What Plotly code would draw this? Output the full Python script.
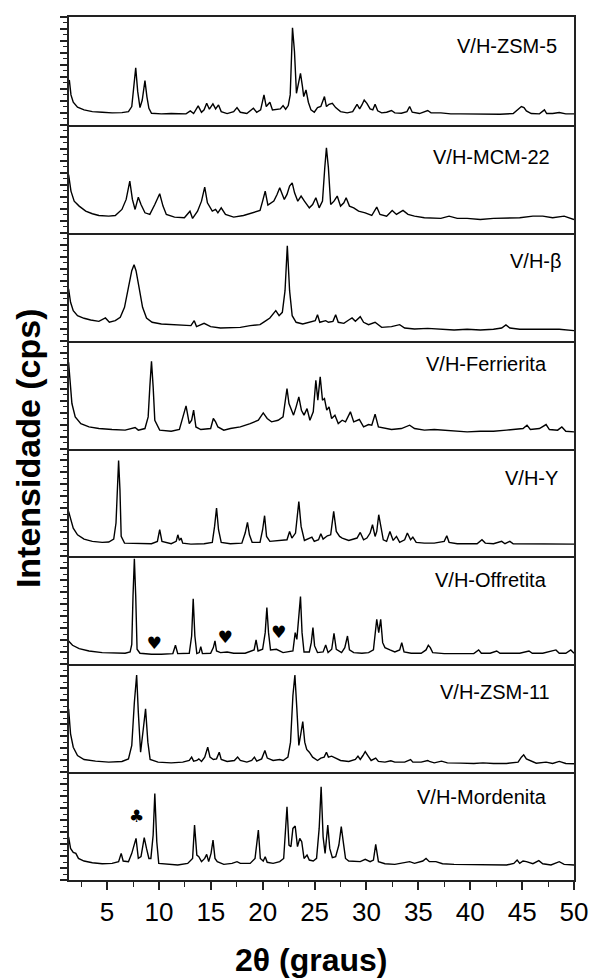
import plotly.graph_objects as go
from plotly.subplots import make_subplots

# ---------------- data (2theta in degrees, intensity in panel units 0-100) ----------------
sample_labels = ["V/H-ZSM-5", "V/H-MCM-22", "V/H-β", "V/H-Ferrierita",
                 "V/H-Y", "V/H-Offretita", "V/H-ZSM-11", "V/H-Mordenita"]

x_ticks = [5, 10, 15, 20, 25, 30, 35, 40, 45, 50]

zsm5 = [(1.36,41.7),(1.52,27.8),(1.74,21),(2.15,16.4),(2.78,13.9),(3.58,12.3),(4.53,11.7),(5.48,11.1),
        (6.43,11.4),(7.06,12.3),(7.38,17),(7.57,34),(7.76,53),(7.95,31),(8.17,16),(8.39,23),(8.65,41),
        (8.84,26),(9.03,15.4),(9.28,10.8),(10.23,10.2),(11.18,10.5),(12.13,10.5),(12.61,10.2),(13.02,13),
        (13.34,10.5),(13.78,17.6),(14.10,11.7),(14.35,13.9),(14.60,20),(14.86,14.5),(15.2,19.4),(15.46,14.8),
        (15.74,18.5),(16.0,12.3),(16.57,10.5),(17.2,12.3),(17.52,16),(17.84,11.7),(18.47,10.5),(19.1,15.4),
        (19.42,11.7),(19.8,13.9),(20.12,27.8),(20.34,17),(20.69,21),(20.94,13.9),(21.32,14.5),(21.7,14.8),
        (21.96,17.9),(22.21,14.5),(22.46,17.9),(22.65,27.8),(22.87,90),(23.06,68),(23.25,29.3),(23.44,40),
        (23.64,47.8),(23.83,35.5),(23.95,26.2),(24.17,32.4),(24.4,21),(24.65,13.9),(24.97,11.7),(25.28,16),
        (25.6,17),(25.95,26.2),(26.14,17),(26.39,19.1),(26.71,20),(27.03,16),(27.5,12.3),(28.14,11.1),
        (28.67,12.3),(29.09,19.1),(29.34,14.8),(29.56,18.5),(29.78,23.1),(30.04,20),(30.35,14.8),(30.61,13.9),
        (30.83,19.1),(31.08,13),(31.46,11.1),(31.94,11.7),(32.41,13.3),(32.73,11.1),(33.36,10.8),(33.9,12.3),
        (34.16,17),(34.41,11.7),(35.11,10.5),(35.9,13.3),(36.22,11.1),(37.17,11.1),(38.12,10.2),(39.07,10.2),
        (40.34,9.9),(41.6,9.9),(42.87,9.9),(44.14,10.5),(44.61,13.9),(44.93,17),(45.18,16),(45.41,13),
        (45.88,10.5),(46.67,10.2),(47.15,13.9),(47.37,10.5),(47.94,10.5),(48.58,11.4),(49.21,10.2),(50.0,10.2)]

mcm22 = [(1.29,54),(1.52,38.6),(1.83,29.3),(2.31,24.7),(2.94,20),(3.58,17.6),(4.21,16),(5.16,15.4),
         (5.79,16),(6.43,21.6),(6.84,30.9),(7.19,47.8),(7.44,30.9),(7.7,21.6),(8.01,33),(8.27,26.2),
         (8.65,18.5),(9.12,17),(9.6,26.2),(10.07,36.1),(10.39,24.7),(10.71,17),(11.5,14.5),(12.45,13.9),
         (12.99,20),(13.24,13.3),(13.72,20),(14.1,29.3),(14.41,42.3),(14.67,27.8),(15.14,20),(15.46,21.6),
         (15.68,18.5),(16.0,23.1),(16.41,17),(17.2,14.5),(18.15,16),(19.1,18.5),(19.74,20.7),(19.99,29.3),
         (20.24,38.6),(20.5,25.6),(20.75,26.9),(21.07,29.3),(21.38,35.5),(21.64,41.7),(21.89,35.5),(22.08,30.9),
         (22.34,35.5),(22.59,43.2),(22.84,46.3),(23.07,37),(23.38,29.3),(23.7,34),(24.02,29.3),(24.49,23.1),
         (24.81,26.2),(25.12,32.4),(25.44,23.1),(25.76,29.3),(25.98,60.2),(26.14,78.7),(26.33,60.2),(26.55,26.2),
         (26.87,29.3),(27.18,34),(27.5,24.7),(27.82,27.8),(28.04,32.4),(28.36,24.7),(28.77,23.1),(29.24,20),
         (29.88,18.5),(30.51,16),(30.99,23.8),(31.3,17),(31.94,15.4),(32.48,20.7),(32.89,17),(33.52,20.7),
         (34.0,17),(34.63,15.4),(35.58,13.9),(36.53,13.3),(37.17,13.3),(37.96,15.4),(38.75,13.3),(39.7,13.3),
         (40.97,12.3),(42.24,13.3),(43.5,13.3),(44.77,13.9),(46.04,15.4),(46.99,15.4),(47.94,13.9),(49.05,15.4),
         (50.0,12.3)]

beta = [(1.29,48),(1.48,35.5),(1.74,27.8),(2.15,23.1),(2.78,20.7),(3.42,19.1),(4.21,17.9),(4.84,21),
        (5.22,17),(5.79,18.5),(6.27,21.6),(6.68,30.9),(7.06,49.4),(7.38,64.8),(7.6,70.4),(7.79,64.8),
        (8.08,49.4),(8.42,30.9),(8.8,21),(9.34,17),(10.23,15.4),(11.18,14.8),(12.29,13.9),(13.08,13.9),
        (13.4,18.5),(13.62,13),(14.35,16),(14.98,13),(15.93,11.7),(16.88,12.3),(17.84,12.3),(18.79,13.9),
        (19.74,14.8),(20.21,17.9),(20.69,21),(21.26,27.8),(21.58,23.1),(21.89,26.2),(22.15,46.3),(22.37,88),
        (22.59,46.3),(22.84,23.1),(23.22,17),(23.86,15.4),(24.65,17),(25.06,18.5),(25.28,24),(25.5,17),
        (26.07,18.5),(26.33,17),(26.77,17.9),(27.03,24),(27.28,17),(27.82,16),(28.29,19.1),(28.61,21),
        (28.93,17.9),(29.4,22.2),(29.72,17),(30.2,14.8),(30.83,17),(31.46,12.3),(32.41,13),(33.2,14.8),
        (33.68,11.7),(34.63,10.8),(35.9,11.4),(37.17,10.8),(38.44,9.9),(39.7,10.5),(40.97,9.9),(42.24,10.5),
        (43.03,11.7),(43.44,14.5),(43.82,11.7),(44.77,10.5),(46.04,10.5),(47.31,9.9),(48.58,10.5),(50.0,9.3)]

ferrierita = [(1.29,80),(1.42,60),(1.61,41.7),(1.93,29.3),(2.47,23.1),(3.26,20),(4.21,18.5),(5.48,17.6),
              (6.74,17),(7.7,19.4),(8.01,17),(8.65,18.5),(8.96,29.3),(9.12,57.1),(9.28,80.9),(9.44,57.1),
              (9.6,26.2),(10.07,17),(11.18,16),(11.97,17.6),(12.29,29.3),(12.61,39.5),(12.92,23.1),(13.15,26.2),
              (13.34,35.5),(13.56,20),(14.03,17.6),(14.98,18.5),(15.24,27.8),(15.46,24.7),(15.68,20),(16.25,17),
              (16.88,18.5),(17.84,20),(18.79,23.1),(19.58,26.2),(20.05,33),(20.43,27.8),(20.85,24.7),(21.48,26.2),
              (21.96,29.3),(22.21,46.3),(22.34,55.6),(22.53,41.7),(22.75,37),(22.97,30.9),(23.22,38.6),(23.48,47.8),
              (23.73,35.5),(23.98,30.9),(24.27,37),(24.55,26.2),(24.87,34),(25.12,63.3),(25.31,44.8),(25.54,66.4),
              (25.76,44.8),(25.95,46.3),(26.17,35.5),(26.39,38.6),(26.64,27.8),(26.96,30.9),(27.28,23.1),(27.66,26.2),
              (27.98,24.7),(28.45,34),(28.77,24.7),(29.31,26.9),(29.72,20),(30.2,22.2),(30.51,21.6),(30.83,31.8),
              (31.15,20),(31.78,18.5),(32.41,17.6),(33.36,18.5),(34.16,21.6),(34.63,18.5),(35.58,17),(36.53,17.6),
              (37.49,17),(38.44,16.4),(39.7,15.4),(40.97,16),(42.24,16),(43.5,17),(44.46,17.6),(45.09,18.5),
              (45.47,21.6),(45.79,17.6),(46.67,18.5),(47.31,22.2),(47.63,17.6),(48.42,17),(48.83,20),(49.21,16),
              (50.0,15.4)]

zeolite_y = [(1.29,41.7),(1.48,34),(1.74,26.2),(2.15,20),(2.78,16),(3.58,13.9),(4.53,13),(5.16,13.3),
             (5.64,16),(5.86,30.9),(5.98,64.8),(6.11,88.9),(6.24,61.7),(6.36,18.5),(6.68,12.3),(8.01,11.7),
             (9.28,11.7),(9.85,13.9),(10.07,24.7),(10.29,13.9),(11.18,11.7),(11.66,13.9),(11.82,20),(11.97,14.8),
             (12.13,17),(12.29,12.3),(13.08,11.4),(14.35,11.7),(15.14,13),(15.36,27.8),(15.55,44.8),(15.74,24.7),
             (16.0,13),(16.88,11.7),(17.99,12.3),(18.31,21.6),(18.53,31.5),(18.72,20),(18.98,13),(19.74,13),
             (19.99,24.7),(20.18,37.7),(20.37,18.5),(20.69,13.9),(21.64,14.8),(22.34,15.4),(22.59,23.1),(22.81,17),
             (23.16,21.6),(23.48,50.9),(23.7,27.8),(24.02,14.8),(24.74,17.9),(24.97,13.9),(25.38,15.4),(25.6,21),
             (25.82,16),(26.23,19.1),(26.55,20),(26.84,41.7),(27.09,23.1),(27.41,18.5),(27.66,17),(28.29,14.8),
             (29.09,17),(29.4,22.2),(29.72,15.4),(30.04,17),(30.35,21.6),(30.58,29.3),(30.83,18.5),(30.99,23.1),
             (31.18,38.6),(31.4,24.7),(31.62,15.4),(31.94,13.9),(32.26,23.1),(32.57,14.8),(32.89,18.5),(33.2,13),
             (33.68,15.4),(33.94,21.6),(34.25,15.4),(34.47,17.9),(34.79,13),(35.58,12.3),(36.53,12.3),(37.49,13.9),
             (37.74,19.1),(37.96,13),(38.75,11.7),(39.7,11.7),(40.66,11.7),(41.13,15.4),(41.45,12.3),(42.24,11.7),
             (43.03,13.9),(43.35,11.7),(43.82,13.9),(44.14,11.7),(45.41,11.7),(46.67,11.4),(47.94,11.7),(48.89,11.7),
             (50.0,11.4)]

offretita = [(1.29,21.6),(1.67,17.6),(2.31,14.5),(3.26,12.3),(4.53,10.8),(5.79,10.2),(6.74,10.2),(7.22,11.4),
             (7.38,18.5),(7.5,63.3),(7.63,97.8),(7.76,63.3),(7.89,13.9),(8.17,10.2),(9.28,9.3),(10.23,9.3),
             (11.34,9.9),(11.59,17.6),(11.81,9.9),(12.92,10.2),(13.15,26.2),(13.3,60.8),(13.46,26.2),(13.65,9.9),
             (13.88,10.8),(14.03,16.4),(14.19,9.9),(14.98,10.2),(15.24,15.4),(15.4,21.6),(15.55,12.3),(15.93,10.8),
             (16.57,11.4),(17.2,10.2),(18.31,10.2),(19.17,13.3),(19.36,22.5),(19.55,12.3),(19.99,13.9),(20.24,29.3),
             (20.4,52.5),(20.56,29.3),(20.75,13.3),(21.32,13.9),(21.96,10.8),(22.91,12.3),(23.13,29.3),(23.29,23.1),
             (23.48,41.7),(23.64,62.7),(23.79,29.3),(23.98,11.4),(24.49,11.4),(24.68,20),(24.84,34),(25.0,17),
             (25.28,10.8),(25.82,11.4),(26.07,17.9),(26.3,10.8),(26.65,13.9),(26.87,28.7),(27.09,13.9),(27.6,10.8),
             (27.91,15.4),(28.17,26.2),(28.36,13.3),(28.77,10.8),(29.56,10.2),(30.2,10.8),(30.67,13.3),(30.99,41.7),
             (31.18,29.3),(31.37,41.7),(31.56,20),(31.78,15.4),(32.26,13.3),(32.73,11.4),(33.2,13.3),(33.4,20),
             (33.62,11.4),(34.31,10.2),(35.27,10.2),(35.74,13.3),(35.96,17.6),(36.15,15.4),(36.38,10.8),(37.49,9.9),
             (39.07,9.9),(40.34,9.9),(40.81,13.3),(41.07,10.2),(41.92,10.2),(42.55,12.3),(42.87,10.2),(43.5,10.2),
             (44.14,10.2),(44.77,10.2),(45.66,12.3),(45.98,10.2),(46.99,10.2),(48.26,13.3),(48.58,10.2),(49.21,10.2),
             (49.69,13.3),(50.0,10.2)]

zsm11 = [(1.29,58.6),(1.48,35.5),(1.74,23.1),(2.15,15.4),(2.78,11.7),(3.89,10.2),(5.16,9.3),(6.43,9.9),
         (7.06,12.3),(7.38,24.7),(7.63,64.8),(7.85,90),(8.01,55.6),(8.23,18.5),(8.49,40),(8.71,58.6),
         (8.93,27.8),(9.15,11.7),(9.91,9.3),(11.18,8.6),(12.29,9.3),(12.92,10.8),(13.15,13.9),(13.34,10.2),
         (13.65,10.8),(13.84,12.3),(14.1,9.9),(14.41,13.9),(14.7,23.1),(14.92,13.9),(15.24,11.7),(15.55,12.3),
         (15.81,18.5),(16.0,11.7),(16.57,9.9),(17.27,10.8),(17.58,13.9),(17.84,10.8),(18.47,9.3),(18.94,10.8),
         (19.2,13.9),(19.42,10.2),(19.9,12.3),(20.21,20),(20.44,13),(21.0,10.8),(21.64,11.7),(21.96,10.8),
         (22.43,13.9),(22.68,27.8),(22.91,71),(23.1,90),(23.29,58.6),(23.48,24.7),(23.67,35.5),(23.86,46.9),
         (24.05,27.8),(24.24,21),(24.49,18.5),(24.81,13.9),(25.28,10.8),(25.6,13),(25.92,13.9),(26.14,18.5),
         (26.33,13.9),(26.64,14.8),(27.03,13),(27.5,10.8),(28.29,9.9),(28.93,11.7),(29.18,14.8),(29.4,11.7),
         (29.66,15.4),(29.88,19.1),(30.13,15.4),(30.45,10.8),(30.89,13),(31.15,9.9),(31.78,9.3),(32.35,10.5),
         (32.73,9.3),(33.68,9.3),(34.25,11.7),(34.47,9.3),(35.27,9.3),(35.9,10.8),(36.06,9.9),(36.53,8.6),
         (37.23,10.2),(37.8,8.6),(39.07,8.3),(40.34,8),(41.23,8.6),(42.24,8),(43.5,8),(44.61,9.3),
         (44.93,13.9),(45.15,16),(45.41,12.3),(45.72,10.8),(46.36,8.3),(47.31,9.3),(47.94,8),(48.58,9.9),
         (49.21,8),(50.0,7.7)]

mordenita = [(1.29,40),(1.48,29.3),(1.74,25.6),(1.99,24.7),(2.24,20),(2.78,17.6),(3.58,16),(4.53,15.1),
             (5.48,15.4),(6.11,17),(6.36,24.7),(6.55,17.6),(7.06,17),(7.38,24.7),(7.79,38.6),(8.01,20),
             (8.27,21.6),(8.58,39.2),(8.8,29.3),(9.03,20),(9.22,20),(9.44,41.7),(9.6,80.2),(9.79,35.5),
             (9.98,15.4),(10.86,14.5),(11.81,13.9),(12.77,15.4),(13.24,20),(13.43,50.9),(13.65,23.1),(13.84,21.6),
             (14.1,17),(14.41,20),(14.6,23.8),(14.79,17),(15.02,24.7),(15.21,37),(15.4,20),(15.62,17),
             (16.25,14.5),(17.04,15.4),(17.52,17),(17.84,15.4),(18.79,15.4),(19.26,20),(19.58,46.3),(19.77,20),
             (20.05,17.6),(20.24,21.6),(20.43,16.4),(21.0,15.4),(21.64,17),(22.02,20),(22.21,47.8),(22.34,67.9),
             (22.53,32.4),(22.72,30.9),(22.91,47.8),(23.13,50),(23.35,30.9),(23.57,38.6),(23.76,35.5),(23.98,20),
             (24.27,23.1),(24.49,18.5),(24.87,17.6),(25.19,20),(25.44,47.8),(25.63,86.4),(25.82,40),(26.01,24.7),
             (26.27,50.9),(26.46,29.3),(26.71,20.7),(27.03,21.6),(27.34,32.4),(27.57,49.4),(27.76,35.5),(27.98,20),
             (28.29,17.6),(28.93,17.6),(29.4,17),(29.88,19.1),(30.35,17),(30.67,18.5),(30.89,33),(31.15,17),
             (31.78,15.1),(32.73,14.5),(33.36,15.4),(34.16,17),(34.63,15.4),(35.43,17.6),(35.74,20),(36.06,17),
             (36.69,17),(37.33,15.1),(38.44,14.5),(39.7,14.5),(40.97,13.9),(42.24,14.5),(43.5,13.9),(44.2,15.4),
             (44.52,18.5),(44.77,15.4),(45.09,17.6),(45.41,17),(46.04,15.1),(46.61,17.9),(46.99,15.1),(47.78,13.9),
             (48.58,17),(49.05,14.5),(50.0,13.9)]

patterns = [zsm5, mcm22, beta, ferrierita, zeolite_y, offretita, zsm11, mordenita]

# impurity markers (heart: panel 6, club: panel 8)
heart_x = [9.53, 16.38, 21.54]
heart_y = [18.5, 23.8, 28.4]
club_x = [7.85]
club_y = [58]

# ---------------- figure ----------------
FONT = "Liberation Sans, Arial, Helvetica, sans-serif"
n = len(patterns)
fig = make_subplots(rows=n, cols=1, shared_xaxes=True, vertical_spacing=0)

for i, pts in enumerate(patterns):
    xs, ys = zip(*pts)
    fig.add_trace(go.Scatter(x=xs, y=ys, mode="lines",
                             line=dict(color="black", width=1.4),
                             showlegend=False, hoverinfo="skip"), row=i + 1, col=1)

fig.add_trace(go.Scatter(x=heart_x, y=heart_y, mode="text", text=["♥"] * len(heart_x),
                         textfont=dict(size=17, color="black", family="DejaVu Sans"),
                         showlegend=False, hoverinfo="skip"), row=6, col=1)
fig.add_trace(go.Scatter(x=club_x, y=club_y, mode="text", text=["♣"] * len(club_x),
                         textfont=dict(size=17, color="black", family="DejaVu Sans"),
                         showlegend=False, hoverinfo="skip"), row=8, col=1)

for r in range(1, n + 1):
    fig.update_yaxes(range=[0, 100], showline=True, mirror=True, linecolor="#222",
                     linewidth=1.5, ticks="outside", ticklen=7, tickwidth=1.5, tickcolor="#222",
                     tick0=0, dtick=100 / 9, showticklabels=False, showgrid=False, zeroline=False,
                     minor=dict(ticks="outside", ticklen=4, tickwidth=1.2, tickcolor="#222",
                                dtick=100 / 18, showgrid=False),
                     row=r, col=1)
    fig.update_xaxes(range=[1.33, 50], showline=True, mirror=(r == 1), linecolor="#222",
                     linewidth=1.5, showgrid=False, zeroline=False,
                     ticks="" if r < n else "outside", showticklabels=(r == n),
                     row=r, col=1)

fig.update_xaxes(tickvals=x_ticks, ticklen=8, tickwidth=1.5, tickcolor="#222",
                 tickfont=dict(size=26, family=FONT, color="black"),
                 minor=dict(ticks="outside", ticklen=5, tickwidth=1.2, tickcolor="#222",
                            tick0=2.5, dtick=5),
                 row=n, col=1)

label_pos = [(0.971, 0.731), (0.957, 0.704), (0.981, 0.741), (0.951, 0.787),
             (0.973, 0.731), (0.951, 0.778), (0.957, 0.741), (0.951, 0.769)]
annotations = []
for i, (lab, (ax_, ay_)) in enumerate(zip(sample_labels, label_pos)):
    sfx = "" if i == 0 else str(i + 1)
    annotations.append(dict(text=lab, xref=f"x{sfx} domain", yref=f"y{sfx} domain",
                            x=ax_, y=ay_, xanchor="right", yanchor="middle", showarrow=False,
                            font=dict(size=20, family=FONT, color="black")))

annotations.append(dict(text="<b>2θ (graus)</b>", xref="paper", yref="paper", x=0.48, y=-0.093,
                        xanchor="center", yanchor="middle", showarrow=False,
                        font=dict(size=32, family=FONT, color="black")))
annotations.append(dict(text="<b>Intensidade (cps)</b>", xref="paper", yref="paper", x=-0.082, y=0.5,
                        xanchor="center", yanchor="middle", textangle=-90, showarrow=False,
                        font=dict(size=34, family=FONT, color="black")))

fig.update_layout(width=600, height=978, margin=dict(l=69, r=19, t=17, b=98),
                  paper_bgcolor="white", plot_bgcolor="white", annotations=annotations,
                  showlegend=False)

fig.write_html("out.html")
